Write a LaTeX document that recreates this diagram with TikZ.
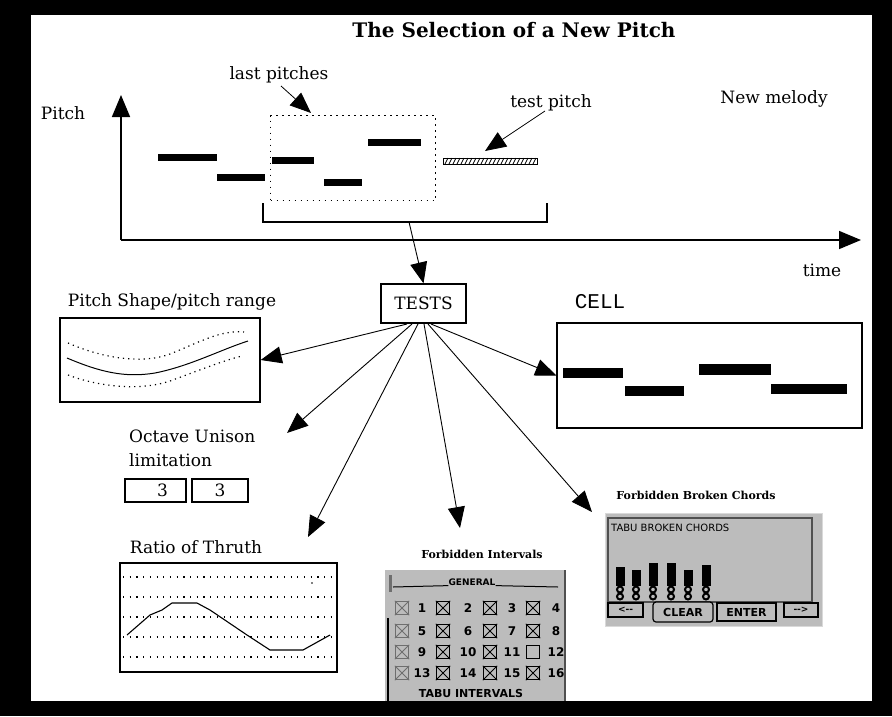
\documentclass[tikz,border=0pt]{standalone}
\usepackage{fontspec}
\setmainfont{DejaVu Serif}
\newfontfamily\cellfont{Liberation Mono}
\newfontfamily\panelfont{DejaVu Sans}
\usetikzlibrary{arrows.meta,calc}
\definecolor{panelgrey}{RGB}{188,188,188}
\definecolor{paneledge}{RGB}{80,80,80}
\definecolor{lightbox}{RGB}{110,110,110}
\begin{document}
\begin{tikzpicture}[x=1pt,y=-1pt,
 txt/.style={font=\fontsize{17}{20}\selectfont, inner sep=0pt},
 smallbold/.style={font=\bfseries\fontsize{11}{13}\selectfont, inner sep=0pt},
 pnl/.style={font=\panelfont\bfseries\fontsize{9}{10}\selectfont, inner sep=0pt},
 arr/.style={-{Triangle[length=21pt,width=17pt]}, line width=0.9pt},
 frame/.style={draw, line width=1.3pt, inner sep=0pt},
 axisline/.style={line width=1.6pt, -{Triangle[length=22pt,width=18pt]}},
 chk/.style={draw, line width=1.3pt, minimum size=13pt, inner sep=0pt},
 btn/.style={draw, line width=1.2pt, fill=panelgrey, inner sep=0pt, pnl}]
\useasboundingbox (0,0) rectangle (892,716);
% frame
\fill[black] (0,0) rectangle (892,716);
\fill[white] (31,15) rectangle (872,701);

% title and labels
\node[font=\bfseries\fontsize{20}{22}\selectfont, inner sep=0pt] (title) at (514,30) {The Selection of a New Pitch};
\node[txt] (lastlbl) at (279,75) {last pitches};
\node[txt] (pitchlbl) at (63,113) {Pitch};
\node[txt] (testlbl) at (551,103) {test pitch};
\node[txt] (newmel) at (774,99) {New melody};
\node[txt] (timelbl) at (822,270) {time};

% axes
\coordinate (origin) at (121,240);
\coordinate (ytip) at (121,95);
\coordinate (xtip) at (861,240);
\draw[axisline] (origin) -- (ytip);
\draw[axisline] (origin) -- (xtip);

% last pitches box
\node[draw, line width=1.3pt, dash pattern=on 1.5pt off 4.5pt, minimum width=165pt, minimum height=85pt, inner sep=0pt, anchor=north west] (lastbox) at (270,115) {};

% melody notes
\fill (158,153.5) rectangle (217,160.5);
\fill (217,173.5) rectangle (265,180.5);
\fill (272,156.5) rectangle (314,163.5);
\fill (324,178.5) rectangle (362,185.5);
\fill (368,138.5) rectangle (421,145.5);
% test pitch (hatched)
\node[draw, line width=1pt, minimum width=94pt, minimum height=6pt, inner sep=0pt] (testbar) at (490,161) {};
\foreach \x in {445,449,...,533} \draw[line width=0.8pt] (\x,164) -- (\x+3,158);

% small arrows
\coordinate (lastfrom) at (281,86);
\coordinate (lastto) at (311,113);
\draw[arr, line width=0.8pt] (lastfrom) -- (lastto);
\coordinate (testfrom) at (545,111);
\coordinate (testtip) at (485,151);
\draw[arr, line width=0.8pt] (testfrom) -- (testtip);

% bracket
\draw[line width=1.3pt] (263,203) -- (263,222) -- (547,222) -- (547,203);
\coordinate (brk) at (409,222);

% TESTS
\node[frame, txt, minimum width=85pt, minimum height=39pt] (tests) at (423.5,303.5) {TESTS};
\draw[arr] (brk) -- (tests.north);

% Pitch shape
\node[txt] (shapelbl) at (172,302) {Pitch Shape/pitch range};
\node[frame, minimum width=200pt, minimum height=84pt] (shapebox) at (160,360) {};
\draw[line width=1pt] (67,358) .. controls (100,372) and (125,378) .. (155,373) .. controls (190,366) and (220,350) .. (248,341);
\draw[line width=1.2pt, dash pattern=on 1.2pt off 4pt] (68,343) .. controls (100,357) and (140,365) .. (170,354) .. controls (200,342) and (220,330) .. (244,332);
\draw[line width=1.2pt, dash pattern=on 1.2pt off 4pt] (68,375) .. controls (100,387) and (140,391) .. (170,381) .. controls (200,370) and (225,360) .. (242,356);

% Octave unison
\node[txt, anchor=west] (octlbl) at (129,436) {Octave Unison};
\node[txt, anchor=west] (limlbl) at (129,460) {limitation};
\node[draw, line width=1.1pt, minimum width=61pt, minimum height=23pt, inner sep=0pt, txt] (boxa) at (155.5,490.5) {\hspace*{14pt}3};
\node[draw, line width=1.1pt, minimum width=56pt, minimum height=23pt, inner sep=0pt, txt] (boxb) at (220,490.5) {3};
\coordinate (octtip) at (287,433);

% CELL
\node[font=\cellfont\fontsize{21}{24}\selectfont, inner sep=0pt] (celllbl) at (600,302) {CELL};
\node[frame, minimum width=305pt, minimum height=105pt] (cellbox) at (709.5,375.5) {};
\fill (563,368) rectangle (623,378);
\fill (625,386) rectangle (684,396);
\fill (699,364) rectangle (771,375);
\fill (771,384) rectangle (847,394);

% Ratio of thruth
\node[txt] (ratiolbl) at (196,547) {Ratio of Thruth};
\node[frame, minimum width=217pt, minimum height=109pt] (ratiobox) at (228.5,617.5) {};
\foreach \y in {577,597,617,637,657}
  \draw[line width=1.2pt, dash pattern=on 1.2pt off 5.5pt] (123,\y) -- (332,\y);
\fill (312,583) circle (0.8pt);
\draw[line width=1.1pt] (127,635) -- (150,615) -- (162,610) -- (172,603) -- (197,603) -- (210,610) -- (247,635) -- (270,650) -- (303,650) -- (330,635);
\coordinate (ratiotip) at (308,537);

% Forbidden intervals
\node[smallbold] (fintlbl) at (482,554) {Forbidden Intervals};
\coordinate (finttip) at (460,528);
\node[fill=panelgrey, minimum width=181pt, minimum height=131pt, inner sep=0pt, anchor=north west] (fintpanel) at (385,570) {};
\draw[paneledge, line width=1.6pt] (565,570) -- (565,701);
\draw[lightbox, line width=3pt] (390,575) -- (390,592);
\draw[line width=1.2pt] (388,618) -- (388,701);
\node[pnl] (general) at (472,582) {GENERAL};
\draw[line width=1pt] (393,587) -- (general.south west) (general.south east) -- (558,587);
\foreach \r/\y in {0/608,1/631,2/652,3/673}{
  \foreach \c/\xb/\xn in {1/402/422,2/443/468,3/490/512,4/533/556}{
    \pgfmathtruncatemacro{\num}{4*\r+\c}
    \node[pnl, font=\panelfont\bfseries\fontsize{12}{13}\selectfont] (n\num) at (\xn,\y) {\num};
  }
}
\foreach \y in {608,631,652,673}{
  \node[chk, draw=lightbox] (cb) at (402,\y) {};
  \draw[lightbox, line width=1pt] (cb.north west) -- (cb.south east) (cb.north east) -- (cb.south west);
}
\foreach \x/\y in {443/608,490/608,533/608,443/631,490/631,533/631,443/652,490/652,443/673,490/673,533/673}{
  \node[chk] (cb) at (\x,\y) {};
  \draw[line width=1pt] (cb.north west) -- (cb.south east) (cb.north east) -- (cb.south west);
}
\node[chk] (cbempty) at (533,652) {};
\node[pnl, font=\panelfont\bfseries\fontsize{11}{12}\selectfont] (tabuint) at (471,693) {TABU INTERVALS};

% Forbidden broken chords
\node[smallbold] (fbclbl) at (696,495) {Forbidden Broken Chords};
\coordinate (fbctip) at (592,512);
\node[fill=panelgrey, draw=black!15, line width=1pt, minimum width=217pt, minimum height=113pt, inner sep=0pt, anchor=north west] (fbcpanel) at (605,513) {};
\draw[paneledge, line width=1.4pt] (608,518) rectangle (812,602);
\node[pnl, font=\panelfont\fontsize{10}{11}\selectfont, anchor=west] (tabubc) at (611,528) {TABU BROKEN CHORDS};
\foreach \x/\t in {620/567,636/570,653/563,671/563,688/570,706/565}{
  \fill (\x-4.5,\t) rectangle (\x+4.5,586);
  \draw[line width=2pt] (\x,589.5) circle (3pt);
  \draw[line width=2pt] (\x,596.5) circle (3pt);
}
\node[btn, minimum width=35pt, minimum height=14pt] (bleft) at (625.5,610) {<--};
\node[btn, rounded corners=3pt, minimum width=60pt, minimum height=20pt, font=\panelfont\bfseries\fontsize{11}{12}\selectfont] (bclear) at (683,612) {CLEAR};
\node[btn, minimum width=59pt, minimum height=18pt, font=\panelfont\bfseries\fontsize{11}{12}\selectfont] (benter) at (746.5,612) {ENTER};
\node[btn, minimum width=34pt, minimum height=14pt] (bright) at (801,610) {-->};

% test arrows
\coordinate (s1) at (407,324);
\coordinate (s2) at (412,324);
\coordinate (s3) at (418,324);
\coordinate (s4) at (424,324);
\coordinate (s5) at (428,324);
\coordinate (s6) at (431,324);
\draw[arr] (s1) -- (shapebox.east);
\draw[arr] (s2) -- (octtip);
\draw[arr] (s3) -- (ratiotip);
\draw[arr] (s4) -- (finttip);
\draw[arr] (s5) -- (fbctip);
\draw[arr] (s6) -- (cellbox.west);
\end{tikzpicture}
\end{document}
